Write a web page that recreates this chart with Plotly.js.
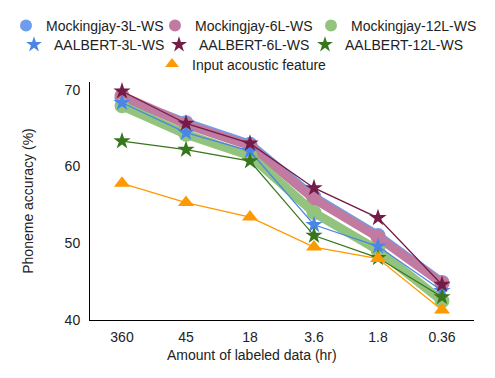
<!DOCTYPE html>
<html>
<head>
<meta charset="utf-8">
<script src="https://cdn.plot.ly/plotly-3.0.1.min.js"></script>
<style>
  html, body { margin: 0; padding: 0; background: #fff; }
  #chart { width: 495px; height: 378px; }
</style>
</head>
<body>
<div id="chart"></div>
<script>
const hours = ['360', '45', '18', '3.6', '1.8', '0.36'];

const mockingjay3 = [68.9, 65.7, 62.9, 56.0, 51.0, 44.9];
const mockingjay6 = [69.2, 65.5, 62.7, 55.8, 50.8, 44.8];
const mockingjay12 = [67.9, 64.2, 61.4, 54.0, 49.1, 42.5];
const aalbert3 = [68.3, 64.4, 62.0, 52.4, 49.6, 43.8];
const aalbert6 = [69.8, 65.6, 63.0, 57.2, 53.3, 44.6];
const aalbert12 = [63.3, 62.2, 60.7, 51.0, 48.1, 43.0];
const acoustic = [57.8, 55.3, 53.4, 49.5, 48.0, 41.3];

const FONT = "Arial, 'Liberation Sans', sans-serif";
const W = 495, H = 378;

// one legend per entry so rows can be laid out like the original (3 / 3 / 1, centred)
// lx = left edge of the entry, ly = vertical centre of the row (px)
const series = [
  { name: 'Mockingjay-3L-WS', y: mockingjay3, color: '#6d9eeb', symbol: 'circle', size: 15, width: 9, lx: 6, ly: 26 },
  { name: 'Mockingjay-6L-WS', y: mockingjay6, color: '#c27ba0', symbol: 'circle', size: 15, width: 9, lx: 155, ly: 26 },
  { name: 'Mockingjay-12L-WS', y: mockingjay12, color: '#93c47d', symbol: 'circle', size: 15, width: 9, lx: 311, ly: 26 },
  { name: 'AALBERT-3L-WS', y: aalbert3, color: '#4a86e8', symbol: 'star', size: 13, width: 1.3, lx: 14, ly: 45 },
  { name: 'AALBERT-6L-WS', y: aalbert6, color: '#741b47', symbol: 'star', size: 13, width: 1.3, lx: 159, ly: 45 },
  { name: 'AALBERT-12L-WS', y: aalbert12, color: '#38761d', symbol: 'star', size: 13, width: 1.3, lx: 305, ly: 45 },
  { name: 'Input acoustic feature', y: acoustic, color: '#ff9900', symbol: 'triangle-up', size: 14, width: 1.3, lx: 152, ly: 64.5 },
];

const traces = [];
const legends = {};
series.forEach((s, i) => {
  const key = i === 0 ? 'legend' : 'legend' + (i + 1);
  legends[key] = {
    orientation: 'h',
    xref: 'container', yref: 'container',
    x: s.lx / W, y: 1 - s.ly / H, xanchor: 'left', yanchor: 'middle',
    itemsizing: 'constant',
    font: { family: FONT, size: 14, color: '#222' },
    bgcolor: 'rgba(0,0,0,0)',
  };
  traces.push({
    type: 'scatter', mode: 'lines', x: hours, y: s.y, showlegend: false,
    line: { color: s.color, width: s.width }, hoverinfo: 'skip',
  });
  traces.push({
    type: 'scatter', mode: 'markers', name: s.name, x: hours, y: s.y,
    legend: key,
    marker: { color: s.color, symbol: s.symbol, size: s.size, line: { width: 0 } },
  });
});

const layout = Object.assign({
  width: W,
  height: H,
  paper_bgcolor: '#fff',
  plot_bgcolor: '#fff',
  font: { family: FONT, size: 14, color: '#222' },
  margin: { l: 90, r: 21, t: 82, b: 58 },
  showlegend: true,
  xaxis: {
    type: 'category',
    range: [-0.5, 5.5],
    showgrid: false, zeroline: false,
    showline: true, linecolor: '#000', linewidth: 1.2,
    ticks: '', ticklabelstandoff: 4,
    tickfont: { family: FONT, size: 14, color: '#222' },
  },
  yaxis: {
    range: [40, 71],
    tickvals: [40, 50, 60, 70],
    showgrid: false, zeroline: false,
    showline: true, linecolor: '#000', linewidth: 1,
    ticks: '', ticklabelstandoff: 6,
    tickfont: { family: FONT, size: 14, color: '#222' },
    title: { text: 'Phoneme accuracy (%)', font: { family: FONT, size: 14, color: '#222' }, standoff: 27 },
  },
  annotations: [{
    text: 'Amount of labeled data (hr)',
    xref: 'paper', yref: 'paper',
    x: 0.422, y: -0.147, xanchor: 'center', yanchor: 'middle',
    showarrow: false,
    font: { family: FONT, size: 14, color: '#222' },
  }],
}, legends);

Plotly.newPlot('chart', traces, layout, { displayModeBar: false, staticPlot: true });
</script>
</body>
</html>
